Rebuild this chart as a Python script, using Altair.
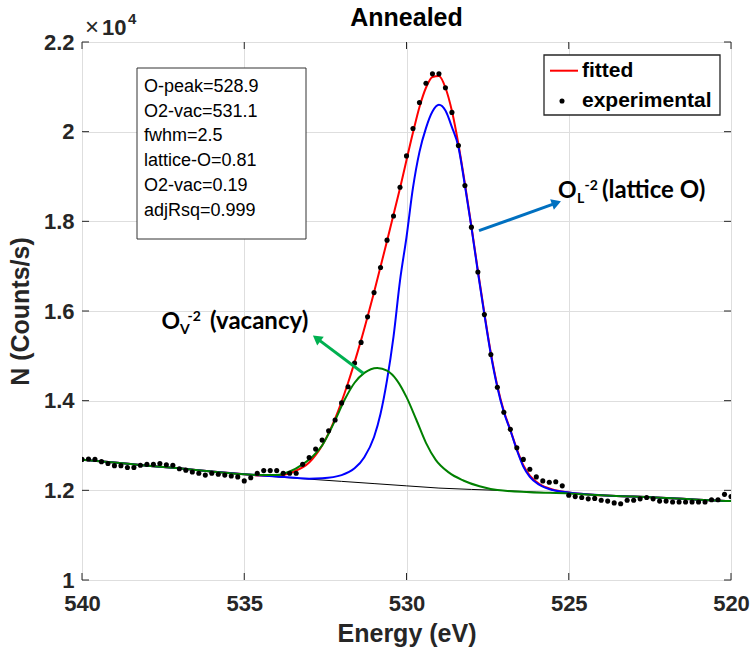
import altair as alt
import pandas as pd

# ---------------- data (counts in units of 1e4) ----------------
exp_energy = [round(540 - 0.2 * i, 1) for i in range(101)]
exp_counts = [
    1.269, 1.270, 1.269, 1.264, 1.260, 1.255, 1.255, 1.251, 1.251, 1.256,
    1.258, 1.258, 1.260, 1.257, 1.256, 1.248, 1.245, 1.241, 1.238, 1.234,
    1.238, 1.236, 1.234, 1.232, 1.230, 1.221, 1.228, 1.238, 1.244, 1.244,
    1.244, 1.238, 1.238, 1.238, 1.258, 1.273, 1.292, 1.312, 1.333, 1.357,
    1.395, 1.431, 1.484, 1.530, 1.587, 1.641, 1.697, 1.758, 1.812, 1.876,
    1.946, 2.007, 2.065, 2.108, 2.129, 2.129, 2.098, 2.043, 1.969, 1.880,
    1.787, 1.687, 1.592, 1.503, 1.430, 1.374, 1.336, 1.295, 1.269, 1.247,
    1.230, 1.221, 1.218, 1.219, 1.210, 1.189, 1.186, 1.184, 1.181, 1.182,
    1.178, 1.176, 1.172, 1.170, 1.178, 1.178, 1.181, 1.184, 1.181, 1.176,
    1.176, 1.174, 1.174, 1.174, 1.174, 1.174, 1.174, 1.179, 1.179, 1.191,
    1.186,
]

bg_energy = [540, 539, 538, 537, 536, 535, 534, 533, 532, 531, 530, 529, 528,
             527, 526, 525, 524, 523, 522, 521, 520]
bg_counts = [1.268, 1.262, 1.255, 1.249, 1.242, 1.236, 1.230, 1.225, 1.220,
             1.215, 1.210, 1.205, 1.202, 1.1995, 1.196, 1.193, 1.189, 1.186,
             1.183, 1.179, 1.176]

fit_energy = [540, 539, 538, 537, 536, 535, 534.5, 534, 533.5, 533.0, 532.6,
              532.2, 531.8, 531.4, 531.0, 530.6, 530.2, 529.8, 529.6, 529.4,
              529.2, 529.0, 528.8, 528.6, 528.4, 528.2, 528.0, 527.8, 527.6,
              527.4, 527.2, 527.0, 526.8, 526.6, 526.4, 526.2, 525.9, 525.5,
              525.0, 524, 523, 522, 521, 520]
fit_counts = [1.268, 1.262, 1.255, 1.249, 1.242, 1.236, 1.233, 1.233, 1.241,
              1.262, 1.300, 1.360, 1.440, 1.535, 1.642, 1.756, 1.874, 1.998,
              2.055, 2.098, 2.122, 2.124, 2.098, 2.046, 1.972, 1.884, 1.789,
              1.690, 1.595, 1.506, 1.433, 1.377, 1.335, 1.292, 1.256, 1.233,
              1.214, 1.202, 1.195, 1.189, 1.186, 1.183, 1.179, 1.176]

lat_energy = [540, 539, 538, 537, 536, 535, 534, 533, 532.6, 532.0, 531.6,
              531.3, 531.0, 530.8, 530.6, 530.4, 530.2, 530.0, 529.8, 529.6,
              529.4, 529.2, 529.0, 528.8, 528.6, 528.4, 528.2, 528.0, 527.8,
              527.6, 527.4, 527.2, 527.0, 526.8, 526.6, 526.4, 526.2, 525.9,
              525.5, 525.0, 524, 523, 522, 521, 520]
lat_counts = [1.268, 1.262, 1.255, 1.249, 1.242, 1.236, 1.231, 1.226, 1.227,
              1.234, 1.249, 1.274, 1.319, 1.371, 1.446, 1.543, 1.668, 1.765,
              1.875, 1.955, 2.008, 2.045, 2.060, 2.047, 2.010, 1.966, 1.880,
              1.787, 1.687, 1.592, 1.503, 1.430, 1.374, 1.334, 1.290, 1.253,
              1.230, 1.212, 1.2006, 1.195, 1.189, 1.186, 1.183, 1.179, 1.176]

vac_energy = [540, 539, 538, 537, 536, 535, 534.5, 534, 533.6, 533.2, 532.9,
              532.6, 532.2, 531.9, 531.6, 531.3, 530.9, 530.6, 530.3, 530.0,
              529.7, 529.4, 529.1, 528.7, 528.25, 527.75, 527.2, 526.2, 525,
              524, 523, 522, 521, 520]
vac_counts = [1.268, 1.262, 1.255, 1.249, 1.242, 1.236, 1.234, 1.234, 1.242,
              1.258, 1.275, 1.300, 1.356, 1.403, 1.440, 1.462, 1.473, 1.467,
              1.446, 1.408, 1.358, 1.306, 1.268, 1.240, 1.222, 1.209, 1.2006,
              1.196, 1.193, 1.189, 1.186, 1.183, 1.179, 1.176]

x_ticks = [540, 535, 530, 525, 520]
y_ticks = [1.0, 1.2, 1.4, 1.6, 1.8, 2.0, 2.2]
box_lines = ["O-peak=528.9", "O2-vac=531.1", "fwhm=2.5", "lattice-O=0.81",
             "O2-vac=0.19", "adjRsq=0.999"]

# ---------------- layout ----------------
W, H = 649, 538
AX = "#262626"
SANS = "Liberation Sans"
CAL = "Lato"

xs = alt.Scale(domain=[520, 540], reverse=True, nice=False)
ys = alt.Scale(domain=[1.0, 2.2], nice=False, zero=False)

axis_x = alt.Axis(values=x_ticks, format="d", grid=True, gridColor="#dedede",
                  ticks=False, domain=False, labelFont=SANS, labelFontSize=22,
                  labelFontWeight="bold", labelColor=AX, labelPadding=13,
                  labelFlush=False, labelOverlap=False,
                  title="Energy (eV)", titleFont=SANS, titleFontSize=25,
                  titleFontWeight="bold", titleColor=AX, titlePadding=7)
axis_y = alt.Axis(values=y_ticks, format="~g", grid=True, gridColor="#dedede",
                  ticks=False, domain=False, labelFont=SANS, labelFontSize=22,
                  labelFontWeight="bold", labelColor=AX, labelPadding=8,
                  labelFlush=False, labelOverlap=False,
                  title="N (Counts/s)", titleFont=SANS, titleFontSize=25,
                  titleFontWeight="bold", titleColor=AX, titlePadding=10)

X = alt.X("E:Q", scale=xs, axis=axis_x, title="Energy (eV)")
Y = alt.Y("N:Q", scale=ys, axis=axis_y, title="N (Counts/s)")


def df(e, c):
    return pd.DataFrame({"E": e, "N": c})


bg = alt.Chart(df(bg_energy, bg_counts)).mark_line(
    color="black", strokeWidth=1, clip=True).encode(x=X, y=Y)


def curve(e, c, color, w=2):
    return alt.Chart(df(e, c)).mark_line(
        color=color, strokeWidth=w, interpolate="monotone", clip=True).encode(x=X, y=Y)


fit = curve(fit_energy, fit_counts, "#ff0000")
lat = curve(lat_energy, lat_counts, "#0000ff")
vac = curve(vac_energy, vac_counts, "#008000")

dots = alt.Chart(df(exp_energy, exp_counts)).mark_circle(
    size=26, color="black", opacity=1, clip=True).encode(x=X, y=Y)

# inward ticks (MATLAB style box)
xt = pd.DataFrame({"E": x_ticks})
yt = pd.DataFrame({"N": y_ticks})
tick_layers = [
    alt.Chart(xt).mark_rule(color=AX, strokeWidth=1).encode(
        x=X, y=alt.value(H), y2=alt.value(H - 7)),
    alt.Chart(xt).mark_rule(color=AX, strokeWidth=1).encode(
        x=X, y=alt.value(0), y2=alt.value(7)),
    alt.Chart(yt).mark_rule(color=AX, strokeWidth=1).encode(
        y=Y, x=alt.value(0), x2=alt.value(7)),
    alt.Chart(yt).mark_rule(color=AX, strokeWidth=1).encode(
        y=Y, x=alt.value(W), x2=alt.value(W - 7)),
]

one = pd.DataFrame({"a": [0]})


def txt(s, x, y, size, weight="normal", font=SANS, color="black", align="left",
        baseline="alphabetic", **kw):
    return alt.Chart(one).mark_text(
        text=s, align=align, baseline=baseline, fontSize=size, fontWeight=weight,
        font=font, color=color, **kw).encode(x=alt.value(x), y=alt.value(y))


def rule(x, y, x2, y2, color, w):
    return alt.Chart(one).mark_rule(color=color, strokeWidth=w).encode(
        x=alt.value(x), y=alt.value(y), x2=alt.value(x2), y2=alt.value(y2))


def head(x, y, angle, color, size=120):
    return alt.Chart(one).mark_point(
        shape="triangle-up", filled=True, color=color, opacity=1, size=size,
        angle=angle).encode(x=alt.value(x), y=alt.value(y))


# stats box
box = alt.Chart(one).mark_rect(fill="white", stroke="#333333", strokeWidth=1).encode(
    x=alt.value(55), x2=alt.value(224), y=alt.value(26), y2=alt.value(197))
box_text = alt.Chart(one).mark_text(
    text="\n".join(box_lines), lineBreak="\n", lineHeight=24.7, align="left",
    baseline="middle", fontSize=18, font=SANS, color="black").encode(
    x=alt.value(62), y=alt.value(45))

# legend
legend = [
    alt.Chart(one).mark_rect(fill="white", stroke=AX, strokeWidth=1.3).encode(
        x=alt.value(462), x2=alt.value(638), y=alt.value(13), y2=alt.value(73)),
    rule(468, 28.7, 496, 28.7, "#ff0000", 2),
    alt.Chart(one).mark_circle(size=26, color="black", opacity=1).encode(
        x=alt.value(480), y=alt.value(59)),
    txt("fitted", 500, 28.7, 21, "bold", baseline="middle"),
    txt("experimental", 500, 59, 21, "bold", baseline="middle"),
]

# annotations
ann = [
    # lattice
    rule(397, 188.7, 470.5, 162.3, "#0070c0", 3),
    head(474.5, 160.9, 70.2, "#0070c0"),
    txt("O", 476, 156, 23, "bold", CAL),
    txt("L", 495, 161, 14, "bold", CAL),
    txt("-2", 502.5, 148, 14, "bold", CAL),
    txt("(lattice O)", 520, 156, 24, "bold", CAL),
    # vacancy
    rule(281.3, 331.3, 237.5, 298.4, "#00b050", 3),
    head(234.7, 296.3, 306.9, "#00b050"),
    txt("O", 79.5, 287.3, 23, "bold", CAL),
    txt("V", 98, 291.5, 14, "bold", CAL),
    txt("-2", 105.5, 278.7, 14, "bold", CAL),
    txt("(vacancy)", 128, 287.3, 24, "bold", CAL),
    # title and exponent
    txt("Annealed", W / 2, -24, 25, "bold", align="center", baseline="middle"),
    txt("\u00d7", 3, -7, 24, "normal", color=AX),
    txt("10", 20, -7, 22, "bold", color=AX),
    txt("4", 46, -18, 15, "bold", color=AX),
]

chart = alt.layer(
    bg, fit, lat, vac, dots, *tick_layers, box, box_text, *legend, *ann
).properties(
    width=W, height=H,
    autosize=alt.AutoSizeParams(type="none"),
    padding={"left": 82, "top": 42, "right": 22, "bottom": 71},
).configure_view(stroke=AX, strokeWidth=1.3).configure(background="white")

chart.save("out.html", embed_options={"renderer": "svg", "actions": False})
